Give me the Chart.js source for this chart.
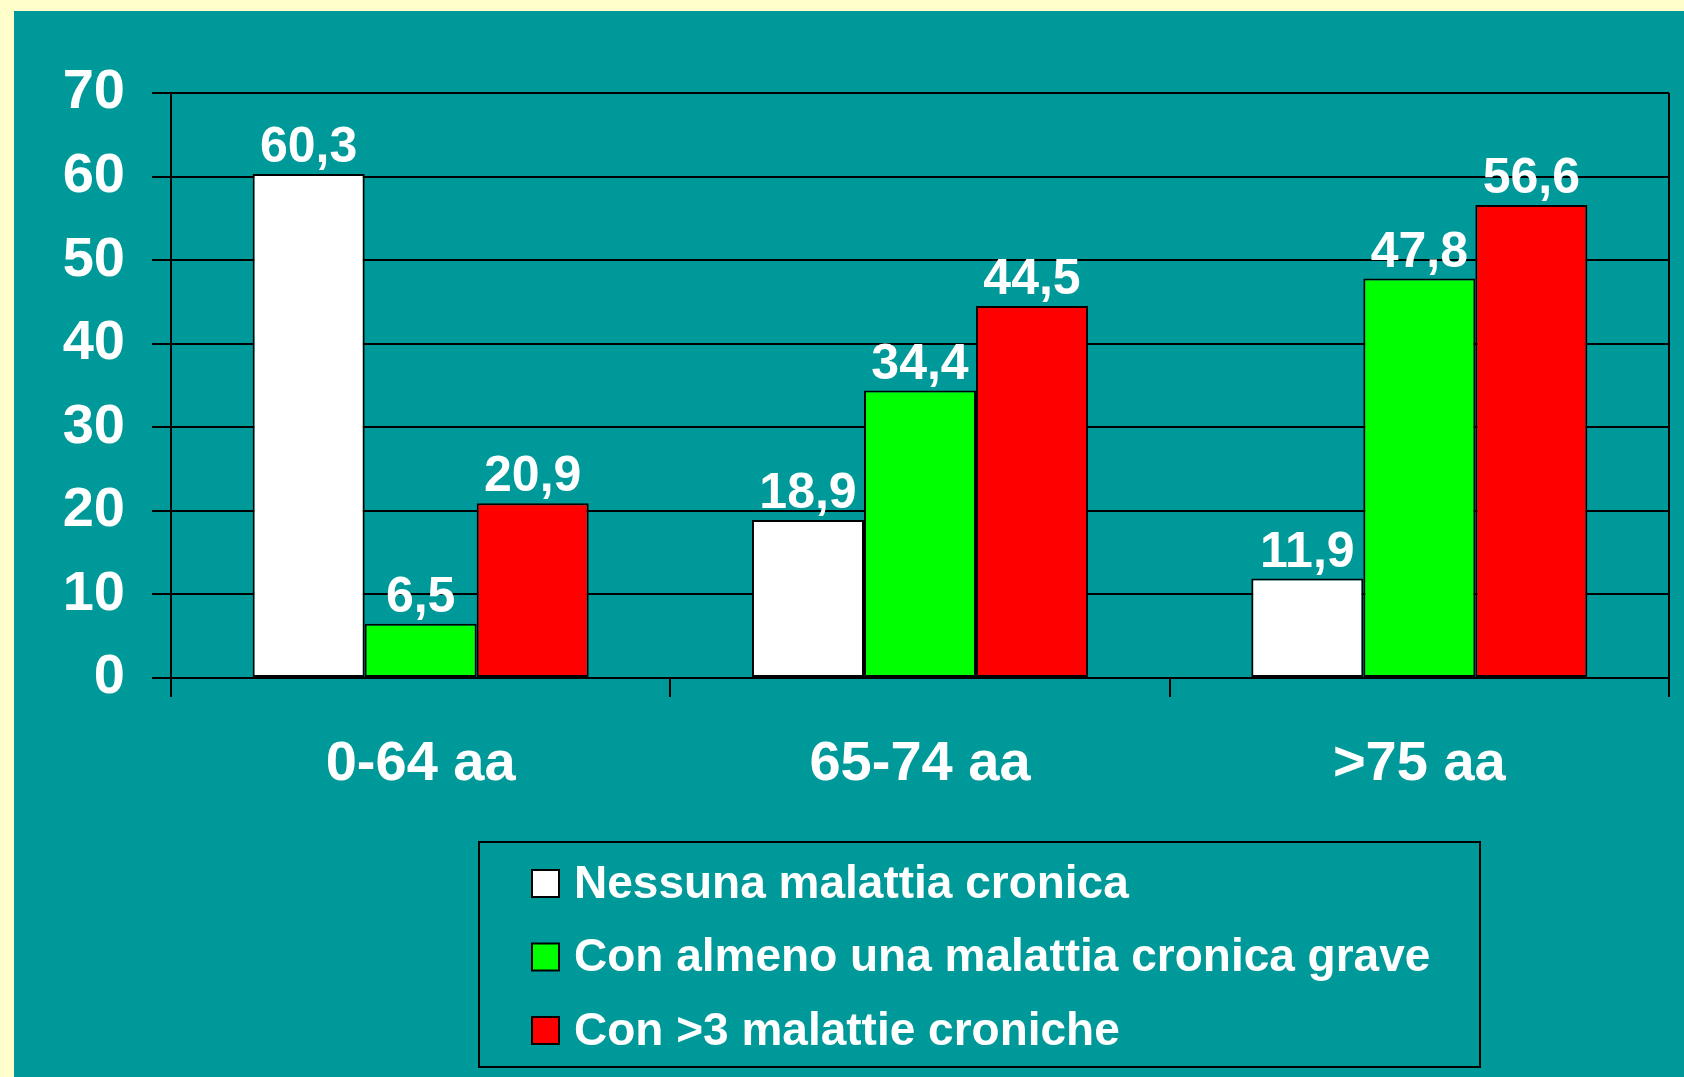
<!DOCTYPE html>
<html lang="it">
<head>
    <meta charset="UTF-8" />
    <title>Malattie croniche per età</title>
    <script src="https://cdn.jsdelivr.net/npm/chart.js"></script>
    <style>
        body { margin: 0; background: #FFFFCC; }
        #wrap { position: absolute; left: 14px; top: 11px; width: 1670px; height: 1066px; background: #009999; }
    </style>
</head>
<body>
    <div id="wrap"><canvas id="chart"></canvas></div>

    <script>
        // data
        const categories = ["0-64 aa", "65-74 aa", ">75 aa"];
        const nessuna = [60.3, 18.9, 11.9];
        const almenoUna = [6.5, 34.4, 47.8];
        const piuDiTre = [20.9, 44.5, 56.6];
        const seriesLabels = [
            "Nessuna malattia cronica",
            "Con almeno una malattia cronica grave",
            "Con >3 malattie croniche"
        ];
        const seriesColors = ["#FFFFFF", "#00FF00", "#FF0000"];

        const FONT = "'Liberation Sans', Arial, sans-serif";

        // value labels above each bar, comma as decimal mark
        const valueLabels = {
            id: "valueLabels",
            afterDatasetsDraw(chart) {
                const ctx = chart.ctx;
                ctx.save();
                ctx.font = "bold 50px " + FONT;
                ctx.fillStyle = "#FFFFFF";
                ctx.textAlign = "center";
                ctx.textBaseline = "alphabetic";
                chart.data.datasets.forEach((ds, i) => {
                    chart.getDatasetMeta(i).data.forEach((bar, j) => {
                        const txt = ds.data[j].toFixed(1).replace(".", ",");
                        ctx.fillText(txt, bar.x, bar.y - 12);
                    });
                });
                ctx.restore();
            }
        };

        // boxed legend, one entry per row
        const boxLegend = {
            id: "boxLegend",
            afterDraw(chart) {
                const ctx = chart.ctx;
                const left = 465, top = 831, w = 1001, h = 225;
                ctx.save();
                ctx.strokeStyle = "#000";
                ctx.lineWidth = 2;
                ctx.strokeRect(left, top, w, h);
                ctx.font = "bold 46px " + FONT;
                ctx.textBaseline = "middle";
                ctx.textAlign = "left";
                chart.data.datasets.forEach((ds, i) => {
                    const cy = 872 + i * 73.5;
                    ctx.fillStyle = ds.backgroundColor;
                    ctx.fillRect(518, cy - 13, 27, 27);
                    ctx.strokeRect(518, cy - 13, 27, 27);
                    ctx.fillStyle = "#FFFFFF";
                    ctx.fillText(ds.label, 560, cy + 2);
                });
                ctx.restore();
            }
        };

        const datasets = [nessuna, almenoUna, piuDiTre].map((vals, i) => ({
            label: seriesLabels[i],
            data: vals,
            backgroundColor: seriesColors[i],
            borderColor: "#000",
            borderWidth: 2,
            borderSkipped: false,
            categoryPercentage: 0.673,
            barPercentage: 1.0
        }));

        new Chart(document.getElementById("chart"), {
            type: "bar",
            data: { labels: categories, datasets: datasets },
            options: {
                responsive: true,
                maintainAspectRatio: false,
                animation: false,
                layout: { padding: { top: 82, right: 15, bottom: 289, left: 0 } },
                plugins: {
                    legend: { display: false },
                    tooltip: { enabled: false }
                },
                scales: {
                    x: {
                        grid: {
                            offset: true,
                            color: (c) => (c.index === 1 || c.index === 2) ? "transparent" : "#000",
                            tickColor: "#000",
                            lineWidth: 2,
                            tickLength: 19
                        },
                        border: { display: true, color: "#000", width: 2 },
                        ticks: {
                            color: "#FFFFFF",
                            font: { family: FONT, size: 56, weight: "bold" },
                            padding: 34,
                            maxRotation: 0
                        },
                        afterFit: (s) => { s.height = 110; }
                    },
                    y: {
                        min: 0,
                        max: 70,
                        grid: { color: "#000", lineWidth: 2, tickLength: 19 },
                        border: { display: true, color: "#000", width: 2 },
                        ticks: {
                            stepSize: 10,
                            color: "#FFFFFF",
                            font: { family: FONT, size: 56, weight: "bold" },
                            padding: 27
                        },
                        afterFit: (s) => { s.width = 157; }
                    }
                }
            },
            plugins: [valueLabels, boxLegend]
        });
    </script>
</body>
</html>
